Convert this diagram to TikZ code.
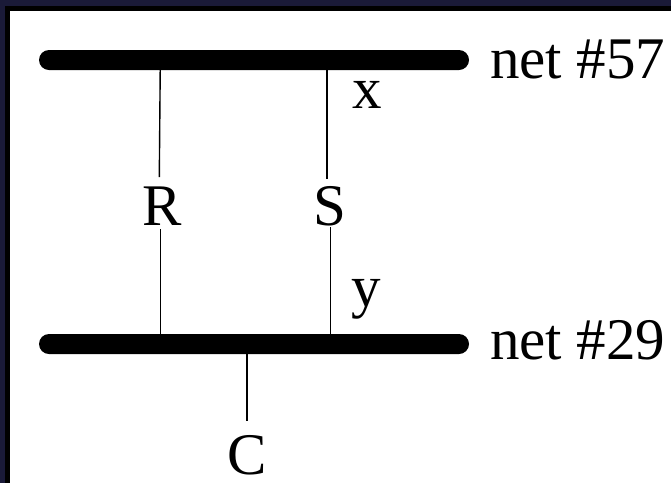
\documentclass[tikz,border=0pt]{standalone}
\usepackage{fontspec}
\setmainfont{Liberation Serif}
\usetikzlibrary{shapes.misc}
\definecolor{bgnavy}{HTML}{1A1A38}
\tikzset{
  x=1pt,y=-1pt,
  netbar/.style={rounded rectangle,fill=black,draw=none,minimum width=430pt,minimum height=20pt,inner sep=0pt,outer sep=0pt},
  lbl/.style={anchor=base west,inner sep=0pt,outer sep=0pt,font=\fontsize{59}{59}\selectfont,text=black},
  wire/.style={draw=black,line width=1.4pt}
}
\begin{document}
\begin{tikzpicture}
\useasboundingbox (0,0) rectangle (671,483);
\fill[bgnavy] (0,0) rectangle (671,483);
\fill[black] (5,5.5) rectangle (671,483);
\fill[white] (10,11) rectangle (671,483);
\node[netbar] (top) at (254,60) {};
\node[netbar] (bot) at (254,344) {};
\node[lbl] (n57) at (490,78) {net \#57};
\node[lbl] (n29) at (490,359) {net \#29};
\node[lbl] (R) at (142,225) {R};
\node[lbl] (S) at (313.5,225) {S};
\node[lbl] (X) at (352,108) {x};
\node[lbl] (Y) at (351.5,306) {y};
\node[lbl] (C) at (227.7,474) {C};
\coordinate (ra) at (160.3,60);
\coordinate (rb) at (159.3,177);
\coordinate (rc) at (160.3,229);
\coordinate (rd) at (160.3,344);
\coordinate (sa) at (327,60);
\coordinate (sb) at (327,179);
\coordinate (sc) at (330.5,227);
\coordinate (sd) at (330.5,344);
\coordinate (ca) at (246.8,344);
\coordinate (cb) at (246.8,421);
\draw[wire] (ra) -- (rb);
\draw[wire] (rc) -- (rd);
\draw[wire] (sa) -- (sb);
\draw[wire] (sc) -- (sd);
\draw[wire] (ca) -- (cb);
\end{tikzpicture}
\end{document}
